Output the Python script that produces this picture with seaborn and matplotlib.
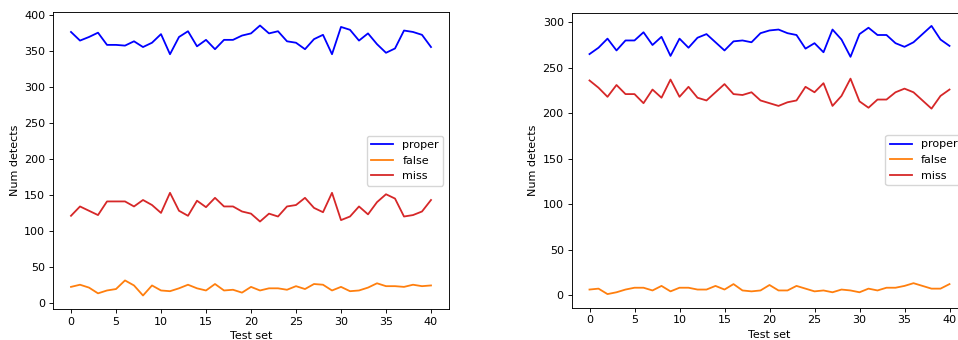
import numpy as np
import pandas as pd
import matplotlib
matplotlib.use("Agg")
import matplotlib.pyplot as plt
import seaborn as sns

test_sets = list(range(41))

# Run A
proper_a = [377, 365, 370, 376, 359, 359, 358, 364, 356, 362, 374, 346, 370, 378, 357, 366,
            353, 366, 366, 372, 375, 386, 375, 378, 364, 362, 353, 367, 373, 346, 384, 380,
            365, 375, 360, 348, 354, 379, 377, 373, 356]
false_a = [22, 25, 21, 13, 17, 19, 31, 24, 10, 24, 17, 16, 20, 25, 20, 17, 26, 17, 18, 14,
           22, 17, 20, 20, 18, 23, 19, 26, 25, 17, 22, 16, 17, 21, 27, 23, 23, 22, 25, 23, 24]
miss_a = [121, 134, 128, 122, 141, 141, 141, 134, 143, 136, 125, 153, 128, 121, 142, 133,
          146, 134, 134, 127, 124, 113, 124, 120, 134, 136, 146, 132, 126, 153, 115, 120,
          134, 123, 140, 151, 145, 120, 122, 127, 143]

# Run B
proper_b = [265, 272, 282, 269, 280, 280, 289, 275, 284, 263, 282, 272, 283, 287, 278, 269,
            279, 280, 278, 288, 291, 292, 288, 286, 271, 277, 267, 292, 281, 262, 287, 294,
            286, 286, 277, 273, 278, 287, 296, 281, 274]
false_b = [6, 7, 1, 3, 6, 8, 8, 5, 10, 4, 8, 8, 6, 6, 10, 6, 12, 5, 4, 5, 11, 5, 5, 10, 7,
           4, 5, 3, 6, 5, 3, 7, 5, 8, 8, 10, 13, 10, 7, 7, 12]
miss_b = [236, 228, 218, 231, 221, 221, 211, 226, 217, 237, 218, 229, 217, 214, 223, 232,
          221, 220, 223, 214, 211, 208, 212, 214, 229, 223, 233, 208, 219, 238, 213, 206,
          215, 215, 223, 227, 223, 214, 205, 219, 226]

series_names = ["proper", "false", "miss"]
colors = {"proper": "blue", "false": "tab:orange", "miss": "tab:red"}

runs = [
    {"proper": proper_a, "false": false_a, "miss": miss_a},
    {"proper": proper_b, "false": false_b, "miss": miss_b},
]

plt.rcParams.update({
    "font.size": 8,
    "axes.linewidth": 0.65,
    "xtick.major.size": 2.8,
    "ytick.major.size": 2.8,
    "xtick.major.width": 0.65,
    "ytick.major.width": 0.65,
    "xtick.major.pad": 2.8,
    "ytick.major.pad": 2.8,
    "axes.labelpad": 3.2,
    "legend.fontsize": 8,
})

fig = plt.figure(figsize=(9.58, 3.4), dpi=100)
ax_left = fig.add_axes([53 / 958, 31 / 340, 396 / 958, 297 / 340])
ax_right = fig.add_axes([571.5 / 958, 32.5 / 340, 396 / 958, 295 / 340])

for ax, run in zip([ax_left, ax_right], runs):
    for name in series_names:
        df = pd.DataFrame({"Test set": test_sets, "Num detects": run[name]})
        sns.lineplot(data=df, x="Test set", y="Num detects", ax=ax,
                     color=colors[name], label=name, linewidth=1.3)
    ax.set_xticks(range(0, 41, 5))
    ax.set_xlabel("Test set")
    ax.set_ylabel("Num detects")
    ax.legend(loc="center right")

fig.savefig("out.png", dpi=100)
